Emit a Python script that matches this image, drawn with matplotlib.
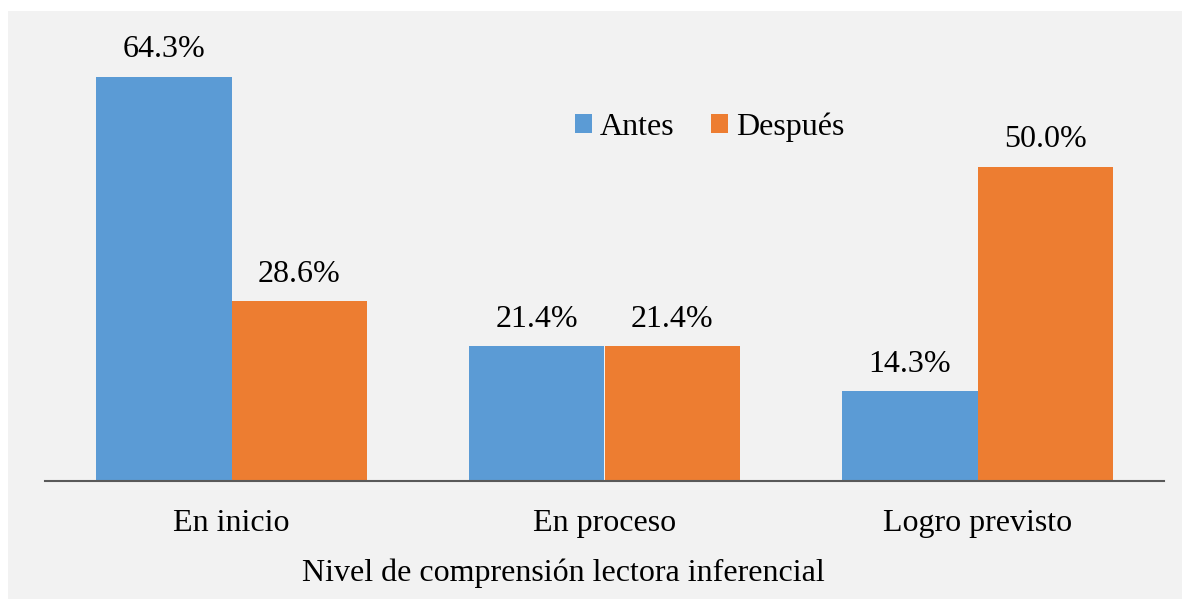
import matplotlib.pyplot as plt
import numpy as np

categories = ["En inicio", "En proceso", "Logro previsto"]
antes = [64.3, 21.4, 14.3]
despues = [28.6, 21.4, 50.0]
series_names = ["Antes", "Después"]
x_title = "Nivel de comprensión lectora inferencial"

blue = "#5B9BD5"
orange = "#ED7D31"
bg = "#F2F2F2"

plt.rcParams['font.family'] = ['Liberation Serif', 'DejaVu Serif']
fs = 23

fig = plt.figure(figsize=(11.88, 5.99), dpi=100)
fig.patch.set_facecolor("white")
# grey chart area inside a thin white margin
fig.patches.append(plt.Rectangle((8 / 1188, 0), 1174 / 1188, 588 / 599,
                                 transform=fig.transFigure, facecolor=bg,
                                 edgecolor="none", zorder=-10))

ax = fig.add_axes([45 / 1188, 118 / 599, 1119 / 1188, 440 / 599])
ax.set_facecolor("none")

x = np.arange(len(categories))
w = 0.362
b1 = ax.bar(x - w / 2, antes, w, color=blue, label=series_names[0])
b2 = ax.bar(x + w / 2, despues, w, color=orange, label=series_names[1])

for bars, vals in [(b1, antes), (b2, despues)]:
    for rect, v in zip(bars, vals):
        ax.annotate("{:.1f}%".format(v),
                    (rect.get_x() + rect.get_width() / 2, rect.get_height()),
                    xytext=(0, 9), textcoords="offset points",
                    ha="center", va="bottom", fontsize=fs)

ax.set_xlim(-0.5, 2.5)
ax.set_ylim(0, 70)
ax.set_xticks(x)
ax.set_xticklabels(categories, fontsize=fs)
ax.tick_params(axis="x", length=0, pad=20.5)
ax.set_yticks([])
for s in ["top", "right", "left"]:
    ax.spines[s].set_visible(False)
ax.spines["bottom"].set_color("#595959")
ax.spines["bottom"].set_linewidth(1.5)

fig.text(563 / 1188, 1 - 573 / 599, x_title, ha="center", va="center", fontsize=fs)

fig.legend(loc="center", bbox_to_anchor=(710 / 1188, 1 - 127 / 599), ncol=2,
           frameon=False, fontsize=fs, handlelength=0.53, handleheight=0.53,
           handletextpad=0.25, columnspacing=1.15)

fig.savefig("out.png", dpi=100)
